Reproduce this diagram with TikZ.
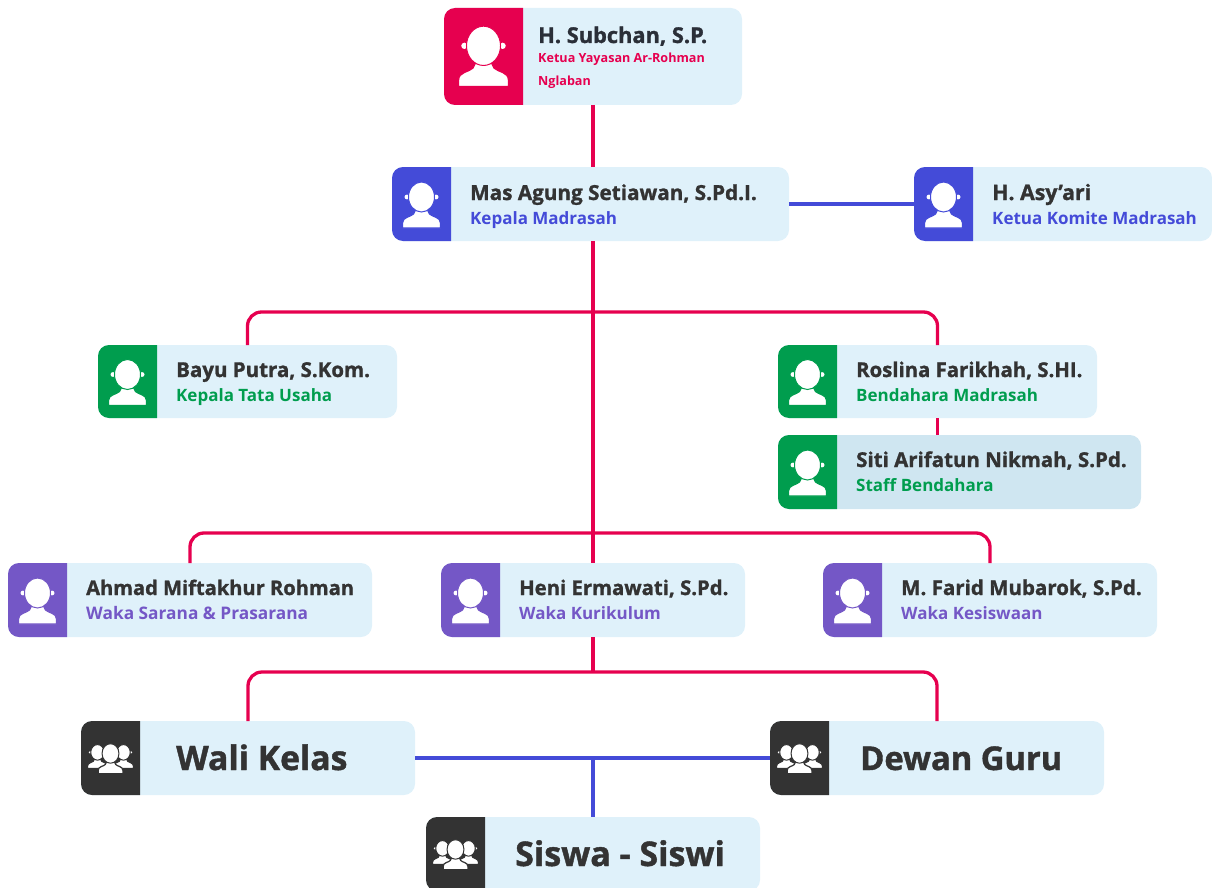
\documentclass[tikz,border=0pt]{standalone}
\usepackage{fontspec}
\setmainfont{Open Sans}
\newfontfamily\heavyfont[BoldFeatures={FakeBold=1.2}]{Open Sans}
\definecolor{cred}{HTML}{E6004F}
\definecolor{cblue}{HTML}{444BD8}
\definecolor{cgreen}{HTML}{009D4E}
\definecolor{cpurple}{HTML}{7457C6}
\definecolor{cdark}{HTML}{333333}
\definecolor{cink}{HTML}{2A2F38}
\definecolor{clight}{HTML}{DFF1FA}
\definecolor{cshade}{HTML}{CFE6F1}
\newcommand{\fsz}[1]{\fontsize{#1}{#1}\selectfont}
\tikzset{
  cardbox/.style={rectangle,rounded corners=11pt,fill=clight,inner sep=0pt,outer sep=0pt},
  nametext/.style={anchor=base west,inner sep=0pt,font=\heavyfont\bfseries\fsz{#1},text=cdark},
  nametext/.default=20.7,
  topname/.style={anchor=base west,inner sep=0pt,font=\heavyfont\bfseries\fsz{21.8},text=cink},
  roletext/.style={anchor=base west,inner sep=0pt,font=\bfseries\fsz{#1}},
  roletext/.default=17,
  smalltext/.style={anchor=base west,inner sep=0pt,font=\bfseries\fsz{12.6},text=cred},
  bigtext/.style={anchor=base west,inner sep=0pt,font=\heavyfont\bfseries\fsz{#1},text=cdark},
  bigtext/.default=33.7,
  redline/.style={draw=cred,line width=3.3pt,rounded corners=14pt},
  blueline/.style={draw=cblue,line width=3.3pt}
}
% person glyph: centre x, centre y, scale, outline colour
\newcommand{\personglyph}[4]{%
  \begin{scope}[shift={(#1,#2)},scale=#3]
    \fill[white,draw=#4,line width=1.2pt]
      (-19,24) -- (-19,19) .. controls (-19,13) and (-11,13) .. (-8,10)
      -- (-6,6) -- (6,6) -- (8,10) .. controls (11,13) and (19,13) .. (19,19)
      -- (19,24) -- cycle;
    \fill[white] (-14.6,-7) circle (2.4) (14.6,-7) circle (2.4);
    \fill[white,draw=#4,line width=1pt] (0,-7) ellipse (13 and 15);
  \end{scope}}
% card: name, x0, y0, x1, y1, iconwidth, colour, card fill
\newcommand{\cardshape}[8]{%
  \pgfmathsetmacro{\cw}{#4-#2}\pgfmathsetmacro{\ch}{#5-#3}%
  \pgfmathsetmacro{\cx}{(#2+#4)/2}\pgfmathsetmacro{\cy}{(#3+#5)/2}%
  \pgfmathsetmacro{\ix}{#2+#6}%
  \node[cardbox,fill=#8,minimum width=\cw pt,minimum height=\ch pt] (#1) at (\cx,\cy) {};
  \fill[#7] (\ix,#3) -- (\ix,#5) [rounded corners=11pt] -- (#2,#5) -- (#2,#3) [sharp corners] -- cycle;
}
\begin{document}
\begin{tikzpicture}[x=1pt,y=-1pt]
\useasboundingbox (0,0) rectangle (1212,888);
\clip (0,0) rectangle (1212,888);

% cards
\cardshape{top}{444}{8}{742}{105}{79}{cred}{clight}
\personglyph{483.5}{55}{1.31}{cred}
\cardshape{mas}{392}{167}{789}{241}{59}{cblue}{clight}
\personglyph{421.5}{204}{1}{cblue}
\cardshape{asy}{914}{167}{1212}{241}{59}{cblue}{clight}
\personglyph{943.5}{204}{1}{cblue}
\cardshape{bayu}{98}{345}{397}{418}{59}{cgreen}{clight}
\personglyph{127.5}{381.5}{1}{cgreen}
\cardshape{rosl}{778}{345}{1097}{418}{59}{cgreen}{clight}
\personglyph{807.5}{381.5}{1}{cgreen}
\cardshape{siti}{778}{435}{1141}{509}{59}{cgreen}{cshade}
\personglyph{807.5}{472}{1}{cgreen}
\cardshape{ahmad}{8}{563}{372}{637}{59}{cpurple}{clight}
\personglyph{37.5}{600}{1}{cpurple}
\cardshape{heni}{441}{563}{745}{637}{59}{cpurple}{clight}
\personglyph{470.5}{600}{1}{cpurple}
\cardshape{farid}{823}{563}{1157}{637}{59}{cpurple}{clight}
\personglyph{852.5}{600}{1}{cpurple}
\cardshape{wali}{81}{721}{415}{795}{59}{cdark}{clight}
\personglyph{97.5}{756}{.52}{cdark}\personglyph{123.5}{756}{.52}{cdark}\personglyph{110.5}{758}{.65}{cdark}
\cardshape{dewan}{770}{721}{1104}{795}{59}{cdark}{clight}
\personglyph{786.5}{756}{.52}{cdark}\personglyph{812.5}{756}{.52}{cdark}\personglyph{799.5}{758}{.65}{cdark}
\cardshape{siswa}{426}{817}{760}{891}{59}{cdark}{clight}
\personglyph{442.5}{852}{.52}{cdark}\personglyph{468.5}{852}{.52}{cdark}\personglyph{455.5}{854}{.65}{cdark}

% connectors
\coordinate (branchA) at (593,312);
\coordinate (branchB) at (593,533);
\coordinate (branchC) at (593,672);
\draw[redline] (top.south) -- (top.south |- mas.north);
\draw[redline] (top.south |- mas.south) -- (heni.north);
\draw[redline] (bayu.north) |- (branchA) -| (rosl.north);
\draw[redline] (ahmad.north) |- (branchB) -| (farid.north);
\draw[redline] (rosl.south) -- (rosl.south |- siti.north);
\draw[redline] (heni.south) -- (branchC);
\draw[redline] (wali.north) |- (branchC) -| (dewan.north);
\draw[blueline] (mas.east) -- (asy.west);
\draw[blueline] (wali.east) -- (dewan.west);
\draw[blueline] (siswa.north |- wali.east) -- (siswa.north);

% texts
\node[topname] (top-n) at (538,43) {H. Subchan, S.P.};
\node[smalltext] (top-r) at (538,63) {Ketua Yayasan Ar-Rohman};
\node[smalltext] (top-p) at (538,86) {Nglaban};
\node[nametext] (mas-n) at (470,200) {Mas Agung Setiawan, S.Pd.I.};
\node[roletext,text=cblue] (mas-r) at (470,224) {Kepala Madrasah};
\node[nametext=21.3] (asy-n) at (992,200) {H. Asy’ari};
\node[roletext,text=cblue] (asy-r) at (992,224) {Ketua Komite Madrasah};
\node[nametext=20.5] (bayu-n) at (176,377) {Bayu Putra, S.Kom.};
\node[roletext,text=cgreen] (bayu-r) at (176,401) {Kepala Tata Usaha};
\node[nametext=20.34] (rosl-n) at (856,377) {Roslina Farikhah, S.HI.};
\node[roletext,text=cgreen] (rosl-r) at (856,401) {Bendahara Madrasah};
\node[nametext=20.47] (siti-n) at (856,467) {Siti Arifatun Nikmah, S.Pd.};
\node[roletext,text=cgreen] (siti-r) at (856,491) {Staff Bendahara};
\node[nametext=20.1] (ahmad-n) at (86,595) {Ahmad Miftakhur Rohman};
\node[roletext=17.3,text=cpurple] (ahmad-r) at (86,619) {Waka Sarana \& Prasarana};
\node[nametext=20.3] (heni-n) at (519,595) {Heni Ermawati, S.Pd.};
\node[roletext,text=cpurple] (heni-r) at (519,619) {Waka Kurikulum};
\node[nametext=20.5] (farid-n) at (901,595) {M. Farid Mubarok, S.Pd.};
\node[roletext,text=cpurple] (farid-r) at (901,619) {Waka Kesiswaan};
\node[bigtext] (wali-t) at (176,770) {Wali Kelas};
\node[bigtext=32.7] (dewan-t) at (860,770) {Dewan Guru};
\node[bigtext=34] (siswa-t) at (515,866) {Siswa - Siswi};
\end{tikzpicture}
\end{document}
